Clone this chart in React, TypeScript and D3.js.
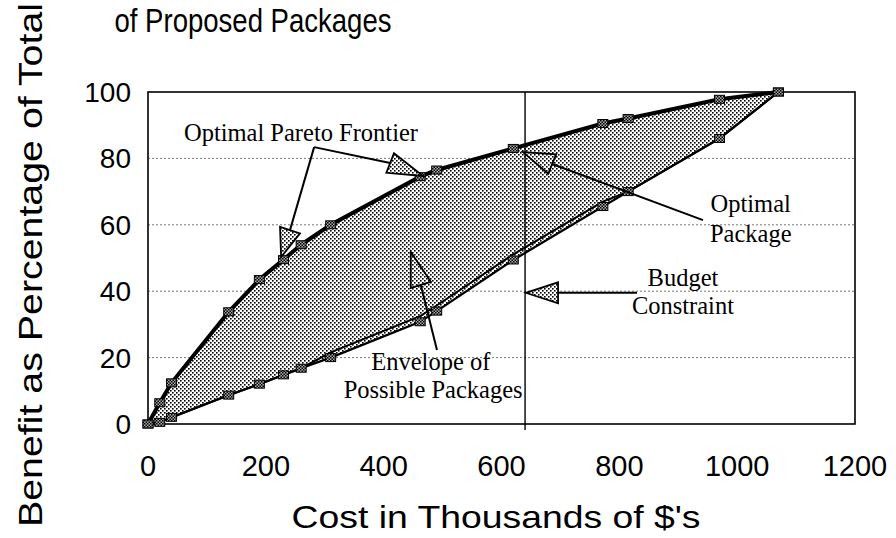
import React from "react";
import * as d3 from "d3";

// ---- data ----
const costs = [0, 20, 40, 137, 189, 230, 260, 310, 462, 490, 620, 772, 815, 970, 1070];
const paretoBenefit = [0, 6.4, 12.4, 33.8, 43.5, 49.5, 54, 60, 74.5, 76.5, 83, 90.5, 92, 97.8, 100];
const envelopeLow = [0, 0.5, 2, 8.7, 12, 14.8, 16.8, 20, 30.8, 34, 49.4, 65.5, 70, 86, 100];
const envelopeLow2 = [0, 0.5, 2, 8.7, 12, 14.8, 16.8, 21.6, 32.5, 35.7, 51.1, 67, 70, 86, 100];
const budget = 640;
const xTicks = [0, 200, 400, 600, 800, 1000, 1200];
const yTicks = [0, 20, 40, 60, 80, 100];
const gridValues = [20, 40, 60, 80];

// annotation arrows in data units: from -> base of head -> tip
const arrows = [
  { from: [282, 83.4], base: [241, 58.4], tip: [226, 50.3] },
  { from: [282, 83.4], base: [411, 78.6], tip: [467, 74.7] },
  { from: [942, 61.4], base: [686, 78.3], tip: [636.5, 81.9] },
  { from: [830, 39.5], base: [696, 39.5], tip: [641.5, 39.5] },
  { from: [490.5, 22.3], base: [463, 41.9], tip: [446, 51.8] },
];
const labels = [
  { text: "Optimal Pareto Frontier", x: 61, y: 85.2, anchor: "start" },
  { text: "Optimal", x: 1023, y: 63.9, anchor: "middle" },
  { text: "Package", x: 1023, y: 54.8, anchor: "middle" },
  { text: "Budget", x: 908, y: 41.6, anchor: "middle" },
  { text: "Constraint", x: 908, y: 33.1, anchor: "middle" },
  { text: "Envelope of", x: 480, y: 16.3, anchor: "middle" },
  { text: "Possible Packages", x: 484, y: 7.8, anchor: "middle" },
];

const W = 896;
const H = 538;
const M = { left: 148, right: 855, top: 92, bottom: 424 };

export default function App() {
  const x = d3.scaleLinear().domain([0, 1200]).range([M.left, M.right]);
  const y = d3.scaleLinear().domain([0, 100]).range([M.bottom, M.top]);
  const idx = costs.map((_, i) => i);

  const area = d3
    .area<number>()
    .x((i) => x(costs[i]))
    .y0((i) => y(envelopeLow[i]))
    .y1((i) => y(paretoBenefit[i]));
  const line = (vals: number[]) =>
    d3
      .line<number>()
      .x((i) => x(costs[i]))
      .y((i) => y(vals[i]))(idx) as string;

  const head = (a: any) => {
    const bx = x(a.base[0]), by = y(a.base[1]);
    const tx = x(a.tip[0]), ty = y(a.tip[1]);
    const dx = tx - bx, dy = ty - by;
    const len = Math.hypot(dx, dy);
    const px = (-dy / len) * 10.5, py = (dx / len) * 10.5;
    return `${bx + px},${by + py} ${bx - px},${by - py} ${tx},${ty}`;
  };

  const sans = "Arial, 'Liberation Sans', sans-serif";
  const serif = "'Times New Roman', 'Liberation Serif', serif";

  return (
    <svg
      width={W}
      height={H}
      style={{ position: "absolute", left: 0, top: 0, background: "#fff" }}
    >
      <defs>
        <pattern id="stip" width="4" height="4" patternUnits="userSpaceOnUse">
          <rect width="4" height="4" fill="#fff" />
          <rect x="0" y="0" width="1.6" height="1.6" fill="#000" />
          <rect x="2" y="2" width="1.6" height="1.6" fill="#000" />
        </pattern>
        <pattern id="check" width="3" height="3" patternUnits="userSpaceOnUse">
          <rect width="3" height="3" fill="#aaa" />
          <rect x="0" y="0" width="1.5" height="1.5" fill="#000" />
          <rect x="1.5" y="1.5" width="1.5" height="1.5" fill="#000" />
        </pattern>
      </defs>

      {/* title */}
      <text
        x={253}
        y={32}
        fontFamily={sans}
        fontSize={34}
        textAnchor="middle"
        textLength={277}
        lengthAdjust="spacingAndGlyphs"
      >
        of Proposed Packages
      </text>

      {/* gridlines */}
      {gridValues.map((g) => (
        <line
          key={g}
          x1={M.left}
          x2={M.right}
          y1={y(g)}
          y2={y(g)}
          stroke="#777"
          strokeWidth={1}
          strokeDasharray="2,2"
        />
      ))}

      {/* shaded envelope */}
      <path d={area(idx) as string} fill="url(#stip)" />

      {/* frame */}
      <rect
        x={M.left}
        y={M.top}
        width={M.right - M.left}
        height={M.bottom - M.top}
        fill="none"
        stroke="#000"
        strokeWidth={1.6}
      />

      {/* budget constraint */}
      <line
        x1={x(budget)}
        x2={x(budget)}
        y1={y(100)}
        y2={y(0) + 6}
        stroke="#000"
        strokeWidth={1.4}
      />

      {/* lines */}
      <path d={line(envelopeLow2)} fill="none" stroke="#000" strokeWidth={2} />
      <path d={line(envelopeLow)} fill="none" stroke="#000" strokeWidth={2.2} />
      <path d={line(paretoBenefit)} fill="none" stroke="#000" strokeWidth={4} />

      {/* markers */}
      {[paretoBenefit, envelopeLow].map((vals, s) =>
        idx.map((i) => (
          <rect
            key={`${s}-${i}`}
            x={x(costs[i]) - 5}
            y={y(vals[i]) - 4}
            width={10}
            height={8}
            fill="url(#check)"
            stroke="#000"
            strokeWidth={1}
          />
        ))
      )}

      {/* annotation arrows */}
      {arrows.map((a, i) => (
        <g key={i}>
          <line
            x1={x(a.from[0])}
            y1={y(a.from[1])}
            x2={x(a.base[0])}
            y2={y(a.base[1])}
            stroke="#000"
            strokeWidth={2}
          />
          <polygon
            points={head(a)}
            fill="url(#stip)"
            stroke="#000"
            strokeWidth={1.8}
            strokeLinejoin="miter"
          />
        </g>
      ))}

      {/* annotation labels */}
      {labels.map((l, i) => (
        <text
          key={i}
          x={x(l.x)}
          y={y(l.y)}
          fontFamily={serif}
          fontSize={24.5}
          textAnchor={l.anchor as any}
        >
          {l.text}
        </text>
      ))}

      {/* y tick labels */}
      {yTicks.map((t) => (
        <text
          key={t}
          x={131}
          y={y(t) + 10}
          fontFamily={sans}
          fontSize={28}
          textAnchor="end"
        >
          {t}
        </text>
      ))}

      {/* x tick labels */}
      {xTicks.map((t) => (
        <text
          key={t}
          x={x(t)}
          y={476}
          fontFamily={sans}
          fontSize={29}
          textAnchor="middle"
        >
          {t}
        </text>
      ))}

      {/* axis titles */}
      <text
        x={496}
        y={528}
        fontFamily={sans}
        fontSize={32}
        textAnchor="middle"
        textLength={409}
        lengthAdjust="spacingAndGlyphs"
      >
        Cost in Thousands of $'s
      </text>
      <text
        transform="translate(42,265) rotate(-90)"
        fontFamily={sans}
        fontSize={33}
        textAnchor="middle"
        textLength={524}
        lengthAdjust="spacingAndGlyphs"
      >
        Benefit as Percentage of Total
      </text>
    </svg>
  );
}
